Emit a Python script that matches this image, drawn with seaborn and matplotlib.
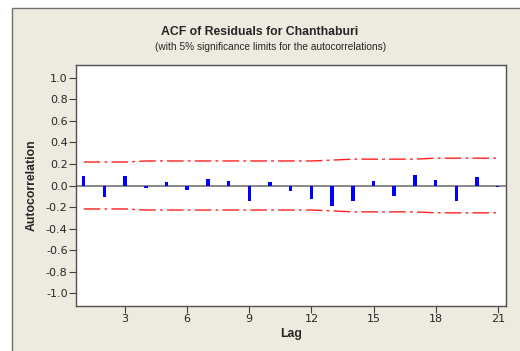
import numpy as np
import pandas as pd
import matplotlib
matplotlib.use("Agg")
import matplotlib.pyplot as plt
import seaborn as sns
from matplotlib.patches import Rectangle

# Dados
lags = list(range(1, 22))
acf = [0.09, -0.11, 0.09, -0.02, 0.035, -0.04, 0.06, 0.045, -0.145, 0.035, -0.05,
       -0.13, -0.19, -0.145, 0.04, -0.10, 0.10, 0.055, -0.145, 0.075, -0.015]
limite = [0.218, 0.218, 0.218, 0.228, 0.228, 0.228, 0.228, 0.228, 0.228, 0.228, 0.228,
          0.228, 0.236, 0.245, 0.245, 0.245, 0.245, 0.254, 0.254, 0.254, 0.254]
yticks = [1.0, 0.8, 0.6, 0.4, 0.2, 0.0, -0.2, -0.4, -0.6, -0.8, -1.0]
xticks = [3, 6, 9, 12, 15, 18, 21]

df = pd.DataFrame({"Lag": lags, "ACF": acf,
                   "Sup": limite, "Inf": [-v for v in limite]})

sns.set_style("white")
plt.rcParams["font.family"] = ["DejaVu Sans"]

fig = plt.figure(figsize=(5.2, 3.51), dpi=100)
fig.patch.set_facecolor("white")
# moldura bege estilo Minitab
fig.patches.append(Rectangle((12 / 520, -0.05), 1.1, 1 - 8 / 351 + 0.05,
                             transform=fig.transFigure, facecolor="#EDEAE0",
                             edgecolor="#707070", linewidth=1, zorder=-10))

ax = fig.add_axes([76 / 520, 1 - 306 / 351, 430 / 520, 241 / 351])
ax.set_facecolor("white")

ax.axhline(0, color="#808080", linewidth=1.3, zorder=1)

sns.barplot(data=df, x="Lag", y="ACF", native_scale=True, width=0.17,
            color="#0000FF", saturation=1, linewidth=0, ax=ax, zorder=3)

for col in ["Sup", "Inf"]:
    sns.lineplot(data=df, x="Lag", y=col, color="#FF2020", linewidth=1,
                 dashes=False, ax=ax, zorder=2)
for line in ax.get_lines()[1:]:
    line.set_dashes((12, 3, 2, 3))

ax.set_xlim(0.63, 21.4)
ax.set_ylim(-1.12, 1.12)
ax.set_xticks(xticks)
ax.set_yticks(yticks)
ax.set_yticklabels([f"{v:.1f}" for v in yticks])
ax.tick_params(axis="both", direction="out", length=5, width=0.8,
               color="#404040", labelsize=8, pad=1, left=True, bottom=True)
for s in ax.spines.values():
    s.set_color("#505050")
    s.set_linewidth(1)

ax.set_xlabel("Lag", fontsize=8.8, fontweight="bold", family="Liberation Sans", labelpad=3)
ax.set_ylabel("Autocorrelation", fontsize=8.8, fontweight="bold",
              family="Liberation Sans", labelpad=6)

fig.text(0.5, 1 - 32 / 351, "ACF of Residuals for Chanthaburi", ha="center", va="center",
         fontsize=8.8, fontweight="bold", family="Liberation Sans")
fig.text(0.52, 1 - 47 / 351, "(with 5% significance limits for the autocorrelations)",
         ha="center", va="center", fontsize=7.3, family="Liberation Sans")

fig.savefig("out.png", dpi=100)
